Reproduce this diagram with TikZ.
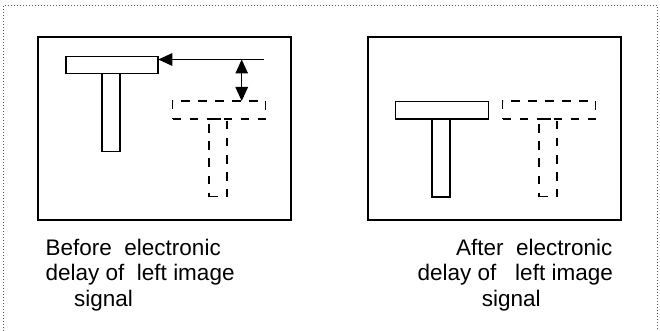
\documentclass[tikz,border=0pt]{standalone}
\usepackage{fontspec}
\newfontfamily\lbl{Liberation Sans}
\usetikzlibrary{arrows.meta}
\begin{document}
\begin{tikzpicture}[x=1pt,y=-1pt,
  frame/.style={draw, line width=1.8pt, rectangle, inner sep=0pt, outer sep=0pt},
  solidpart/.style={draw, line width=1.8pt, rectangle, inner sep=0pt, outer sep=0pt},
  ghostpart/.style={draw, line width=1.8pt, rectangle, inner sep=0pt, outer sep=0pt, dash pattern=on 8.5pt off 8.5pt},
  caption/.style={anchor=base west, inner sep=0pt, font=\lbl\fontsize{22.5}{26}\selectfont},
  tip/.style={-{Triangle[length=14pt,width=12.5pt]}, line width=1.3pt},
  dtip/.style={{Triangle[length=14pt,width=12.5pt]}-{Triangle[length=14pt,width=12.5pt]}, line width=1.3pt}]
\useasboundingbox (0,0) rectangle (660,331);
% dotted outer border, open at the bottom
\draw[gray!70!black, line width=1pt, dash pattern=on 1pt off 2pt]
  (3.5,331) -- (3.5,5.5) -- (657.5,5.5) -- (657.5,331);

% ---- left panel: before the delay ----
\node[frame, minimum width=253pt, minimum height=183pt] (boxL) at (164.5,128.5) {};
\node[solidpart, minimum width=92.5pt, minimum height=17pt] (barL) at (112,65) {};
\node[solidpart, minimum width=18pt, minimum height=78pt, anchor=north] (stemL) at (111,73.5) {};
\node[ghostpart, minimum width=93pt, minimum height=18pt] (gbarL) at (219,110) {};
\node[ghostpart, minimum width=18pt, minimum height=77.5pt, anchor=north] (gstemL) at (218.3,119) {};
\coordinate (ref) at (264.3,59.5);
\coordinate (dimtop) at (241.7,59.5);
\draw[tip] (ref) -- (ref -| barL.east);
\draw[dtip] (dimtop) -- (dimtop |- gbarL.north);

% ---- right panel: after the delay ----
\node[frame, minimum width=253pt, minimum height=183pt] (boxR) at (494.5,128.5) {};
\node[solidpart, minimum width=93pt, minimum height=17.5pt] (barR) at (442,110.3) {};
\node[solidpart, minimum width=18pt, minimum height=78pt, anchor=north] (stemR) at (441,119) {};
\node[ghostpart, minimum width=93pt, minimum height=18pt] (gbarR) at (549,110) {};
\node[ghostpart, minimum width=18pt, minimum height=77.5pt, anchor=north] (gstemR) at (548.3,119) {};

% ---- captions ----
\node[caption] (capL1) at (45.5,255) {Before~~electronic};
\node[caption] (capL2) at (45.5,280.5) {delay of~~left image};
\node[caption] (capL3) at (74,306) {signal};
\node[caption] (capR1) at (456,255) {After~~electronic};
\node[caption] (capR2) at (417.5,280.5) {delay of~~~left image};
\node[caption] (capR3) at (481.7,306) {signal};
\end{tikzpicture}
\end{document}
